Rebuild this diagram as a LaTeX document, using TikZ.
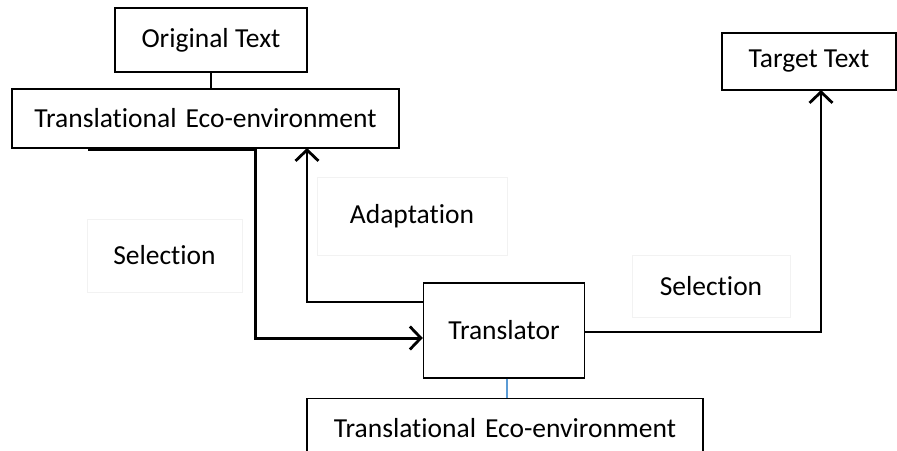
\documentclass[tikz,border=0pt]{standalone}
\usepackage{fontspec}
\setmainfont{Carlito}[Ligatures=NoCommon]
\usetikzlibrary{arrows.meta}
\begin{document}
\begin{tikzpicture}[x=1pt,y=-1pt,
  box/.style={draw=black,line width=1.4pt,inner sep=0pt,align=center,font=\fontsize{27.5}{31}\selectfont},
  lbl/.style={draw=black!5,line width=1pt,inner sep=0pt,align=center,font=\fontsize{27.5}{31}\selectfont},
  arr/.style={draw=black,line width=3pt,-{Straight Barb[length=11pt,width=23pt,line width=2.8pt]}},
  plain/.style={draw=black,line width=1.4pt}]
\useasboundingbox (0,0) rectangle (897,450);
\node[box,minimum width=192pt,minimum height=64pt] (orig) at (211,40) {Original Text};
\node[box,minimum width=387pt,minimum height=59pt] (te1) at (205.5,118.5) {Translational\hspace{0.1em} Eco-environment};
\node[box,minimum width=174pt,minimum height=57pt] (tt) at (809,61.5) {Target Text};
\node[box,minimum width=161pt,minimum height=95pt] (trans) at (504,330.5) {Translator};
\node[box,minimum width=396pt,minimum height=80pt,anchor=north,text height=39pt,text depth=41pt] (te2) at (505,398) {Translational\hspace{0.1em} Eco-environment};
\node[lbl,minimum width=155pt,minimum height=73pt] (sel1) at (164.5,255.5) {Selection};
\node[lbl,minimum width=190pt,minimum height=78pt] (adp) at (412,216) {Adaptation};
\node[lbl,minimum width=158pt,minimum height=62pt] (sel2) at (711,286) {Selection};
\coordinate (s0) at (88,149);
\coordinate (a1) at (307,148);
\coordinate (t1) at (821,90);
\draw[plain] (orig.south) -- (orig.south |- te1.north);
\draw[draw={rgb,255:red,91;green,155;blue,213},line width=1.4pt] (trans.south -| 507,0) -- (te2.north -| 507,0);
\draw[arr] (s0) -- (255,149) |- ([yshift=-7.5pt]trans.west);
\draw[arr,line width=2.6pt] ([yshift=28.5pt]trans.west) -| (a1);
\draw[arr,line width=2.3pt] ([yshift=-1.5pt]trans.east) -| (t1);
\end{tikzpicture}
\end{document}
